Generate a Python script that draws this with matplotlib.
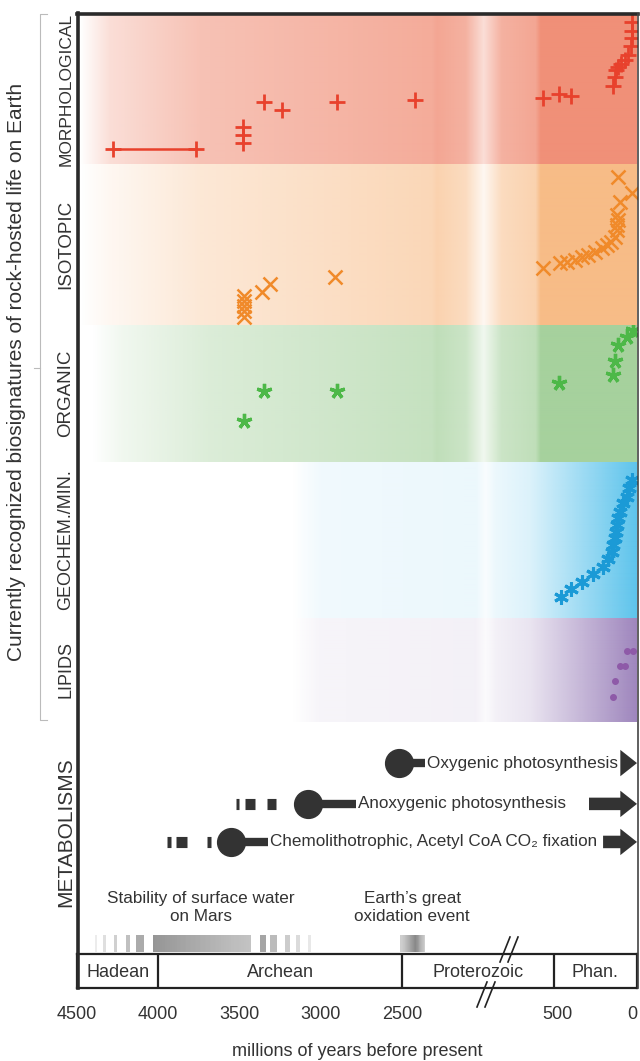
import numpy as np
import matplotlib
matplotlib.use("Agg")
import matplotlib.pyplot as plt
from matplotlib.lines import Line2D

plt.rcParams['font.family'] = ['Liberation Sans', 'DejaVu Sans']

# --- data: ages in Ma, levels = height inside each band (0 bottom, 1 top) ---
morph_age = [4280, 3770, 3480, 3480, 3480, 3350, 3240, 2900, 2330, 680, 490, 410,
             150, 137, 131, 119, 100, 75, 56, 37, 31, 31, 31]
morph_level = [0.10, 0.10, 0.25, 0.195, 0.14, 0.416, 0.36, 0.416, 0.43, 0.443, 0.47, 0.456,
               0.517, 0.577, 0.624, 0.644, 0.664, 0.691, 0.73, 0.785, 0.84, 0.89, 0.946]

iso_age = [3470, 3470, 3470, 3470, 3470, 3360, 3310, 2910,
           680, 481, 437, 387, 344, 306, 262, 219, 187, 162, 137, 125, 125, 119, 125, 106, 31, 119]
iso_level = [0.180, 0.149, 0.118, 0.087, 0.050, 0.205, 0.255, 0.298,
             0.354, 0.385, 0.391, 0.404, 0.422, 0.435, 0.453, 0.478, 0.497, 0.516, 0.547,
             0.59, 0.62, 0.652, 0.683, 0.764, 0.82, 0.919]

org_age = [3470, 3350, 2900, 487, 150, 137, 119, 62, 25]
org_level = [0.30, 0.518, 0.518, 0.577, 0.635, 0.737, 0.854, 0.912, 0.964]

geo_age = [475, 412, 344, 275, 212, 181, 156, 150, 137, 131, 125, 119, 106, 87, 62, 50, 31]
geo_level = [0.135, 0.186, 0.231, 0.282, 0.327, 0.378, 0.423, 0.468, 0.513, 0.551,
             0.596, 0.641, 0.679, 0.737, 0.776, 0.833, 0.885]

lip_age = [62, 25, 106, 75, 137, 150]
lip_level = [0.683, 0.683, 0.538, 0.538, 0.394, 0.24]

met_names = ["Oxygenic photosynthesis", "Anoxygenic photosynthesis",
             "Chemolithotrophic, Acetyl CoA CO\u2082 fixation"]
met_origin = [2520, 3080, 3550]
met_bar_end = [2200, 2783, 3325]
met_arrow_start = [100, 300, 212]
met_dashes = [[], [(3522, 3503), (3466, 3405), (3330, 3275)],
              [(3946, 3920), (3890, 3822), (3700, 3675)]]

mars_left = [(4392, 4374), (4337, 4319), (4272, 4252), (4197, 4172), (4140, 4085)]
mars_right = [(3375, 3340), (3310, 3270), (3220, 3190), (3150, 3125), (3080, 3060)]
mars_solid = (4030, 3430)
goe_span = (2510, 2200)

eon_names = ["Hadean", "Archean", "Proterozoic", "Phan."]
eon_bounds = [4500, 4000, 2500, 541, 0]
tick_ages = [4500, 4000, 3500, 3000, 2500, 500, 0]

# --- broken time axis ---
age_knots = [0, 500, 2500, 4500]
pos_knots = [0, 80, 235, 560]


def fwd(a):
    return np.interp(a, age_knots, pos_knots)


def inv(p):
    return np.interp(p, pos_knots, age_knots)


W, H = 640, 1061
fig = plt.figure(figsize=(W / 100, H / 100), dpi=100)
X0, X1 = 77, 637


def add_ax(top, bottom):
    ax = fig.add_axes([X0 / W, 1 - bottom / H, (X1 - X0) / W, (bottom - top) / H])
    ax.set_xscale('function', functions=(fwd, inv))
    ax.set_xlim(4500, 0)
    ax.set_ylim(0, 1)
    ax.axis('off')
    return ax


def gradient(ax, color, px, alpha):
    xs = np.linspace(X0, X1, 560)
    a = np.interp(xs, px, alpha)
    img = np.zeros((1, len(xs), 4))
    img[..., :3] = matplotlib.colors.to_rgb(color)
    img[0, :, 3] = a
    ax.imshow(img, extent=[0, 1, 0, 1], transform=ax.transAxes, aspect='auto',
              interpolation='bilinear', zorder=0)
    ax.set_xlim(4500, 0)
    ax.set_ylim(0, 1)


shape_px = [80, 110, 200, 432, 437, 466, 484, 502, 536, 541, 637]
shape_a = np.array([0, 0.3, 0.55, 0.75, 0.8, 0.7, 0.3, 0.7, 0.8, 1.0, 1.0])
late_px = [292, 320, 476, 486, 496, 530, 637]
late_a = np.array([0, 0.09, 0.12, 0.04, 0.12, 0.22, 1.0])

bands = [
    ("MORPHOLOGICAL", 14, 164, '#EF866C', shape_px, shape_a * 0.92, 12.5),
    ("ISOTOPIC", 164, 325, '#F7B67C', shape_px, shape_a ** 1.8 * 0.92, 13.5),
    ("ORGANIC", 325, 462, '#9ACB90', [p + 12 for p in shape_px[:3]] + shape_px[3:], shape_a ** 1.5 * 0.88, 13.5),
    ("GEOCHEM./MIN.", 462, 618, '#5EC4EC', late_px, late_a, 13),
    ("LIPIDS", 618, 722, '#9A80BA', late_px, late_a * 0.95, 13),
]
axes = []
for name, top, bottom, col, px, al, fs in bands:
    ax = add_ax(top, bottom)
    gradient(ax, col, px, al)
    axes.append(ax)
    fig.text(66 / W, 1 - (top + bottom) / 2 / H, name, rotation=90, ha='center', va='center',
             fontsize=fs, color='#333333')
fig.text(66 / W, 1 - 832 / H, "METABOLISMS", rotation=90, ha='center', va='center',
         fontsize=15, color='#333333')

ax_m, ax_i, ax_o, ax_g, ax_l = axes
red, orange, green, blue, purple = '#E8412C', '#F08A2A', '#4DB848', '#1B9AD6', '#8E5AA8'
ax_m.plot(morph_age[:2], morph_level[:2], color=red, lw=1.8)
ax_m.plot(morph_age, morph_level, ls='none', marker='+', ms=11, mew=2.0, color=red)
ax_i.plot(iso_age, iso_level, ls='none', marker='x', ms=10, mew=1.8, color=orange)
ax_o.plot(org_age, org_level, ls='none', marker=(5, 2, 0), ms=11, mew=2.4, color=green)
ax_g.plot(geo_age, geo_level, ls='none', marker=(6, 2, 0), ms=10.5, mew=2.2, color=blue)
ax_l.plot(lip_age, lip_level, ls='none', marker='o', ms=4, color=purple)

# --- metabolisms ---
ax_t = add_ax(722, 954)
dark = '#333333'
rows = [0.823, 0.647, 0.483]
for i, y in enumerate(rows):
    for a0, a1 in met_dashes[i]:
        ax_t.plot([a0, a1], [y, y], color=dark, lw=8, solid_capstyle='butt')
    ax_t.plot([met_origin[i], met_bar_end[i]], [y, y], color=dark, lw=6, solid_capstyle='butt')
    ax_t.plot(met_origin[i], y, marker='o', ms=20, color=dark)
    ax_t.annotate(met_names[i], xy=(met_bar_end[i], y), xytext=(1.5, 0), textcoords='offset points',
                  ha='left', va='center', fontsize=12.3, color=dark)
    ax_t.annotate('', xy=(0, y), xytext=(met_arrow_start[i], y),
                  arrowprops=dict(arrowstyle='simple,head_length=0.6,head_width=0.95,tail_width=0.45',
                                  fc=dark, ec='none', mutation_scale=20, shrinkA=0, shrinkB=0))

# Mars surface water and GOE bars
yb0, yb1 = 0.009, 0.082
greys = plt.get_cmap('Greys')
for k, (a0, a1) in enumerate(mars_left):
    ax_t.axvspan(a0, a1, yb0, yb1, color=greys(0.15 + 0.07 * k), lw=0)
for k, (a0, a1) in enumerate(mars_right):
    ax_t.axvspan(a0, a1, yb0, yb1, color=greys(0.45 - 0.07 * k), lw=0)
xs = np.linspace(mars_solid[0], mars_solid[1], 60)
ax_t.pcolormesh(xs, [yb0, yb1], [np.linspace(0.5, 0.35, 59)], cmap='Greys', vmin=0, vmax=1)
xs = np.linspace(goe_span[0], goe_span[1], 30)
ax_t.pcolormesh(xs, [yb0, yb1], [np.interp(np.linspace(0, 1, 29), [0, 0.6, 1], [0.3, 0.55, 0.3])],
                cmap='Greys', vmin=0, vmax=1)
ax_t.text(3740, 0.2, "Stability of surface water\non Mars", ha='center', va='center',
          fontsize=12.3, color=dark, linespacing=1.25)
ax_t.text(2370, 0.2, "Earth\u2019s great\noxidation event", ha='center', va='center',
          fontsize=12.3, color=dark, linespacing=1.25)

# --- eon bar ---
ax_e = fig.add_axes([X0 / W, 1 - 988 / H, (X1 - X0) / W, 34 / H])
ax_e.set_xscale('function', functions=(fwd, inv))
ax_e.set_xlim(4500, 0)
ax_e.set_ylim(0, 1)
ax_e.set_yticks([])
for s in ax_e.spines.values():
    s.set_linewidth(1.6)
    s.set_color('#222222')
for b in eon_bounds[1:-1]:
    ax_e.axvline(b, color='#222222', lw=1.6)
for k, name in enumerate(eon_names):
    mid = inv((fwd(eon_bounds[k]) + fwd(eon_bounds[k + 1])) / 2)
    ax_e.text(mid, 0.45, name, ha='center', va='center', fontsize=13, color=dark)
ax_e.set_xticks(tick_ages)
ax_e.set_xticklabels([str(t) for t in tick_ages], fontsize=13, color=dark)
ax_e.get_xticklabels()[-1].set_ha('right')
ax_e.tick_params(axis='x', length=0, pad=13)
ax_e.set_xlabel("millions of years before present", fontsize=13, color=dark, labelpad=14)

# --- frame and decorations (figure pixels) ---
def fline(xp, yp, **kw):
    fig.add_artist(Line2D([x / W for x in xp], [1 - y / H for y in yp], transform=fig.transFigure, **kw))


fline([78, 78], [13, 988], lw=2.6, color='#2a2a2a')
fline([77, 638], [14, 14], lw=2.6, color='#2a2a2a')
fline([637.5, 637.5], [14, 988], lw=1.2, color='#444444')
for dx in (0, 8):
    fline([500 + dx, 510 + dx], [962, 937], lw=1.2, color='#222222')
    fline([477 + dx, 487 + dx], [1007, 982], lw=1.2, color='#222222')
fline([47, 40, 40, 47], [14, 14, 720, 720], lw=0.8, color='#bbbbbb')
fline([40, 34], [368, 368], lw=0.8, color='#bbbbbb')
fig.text(17 / W, 1 - 372 / H, "Currently recognized biosignatures of rock-hosted life on Earth",
         rotation=90, ha='center', va='center', fontsize=15, color=dark)

fig.savefig("out.png", dpi=100)
